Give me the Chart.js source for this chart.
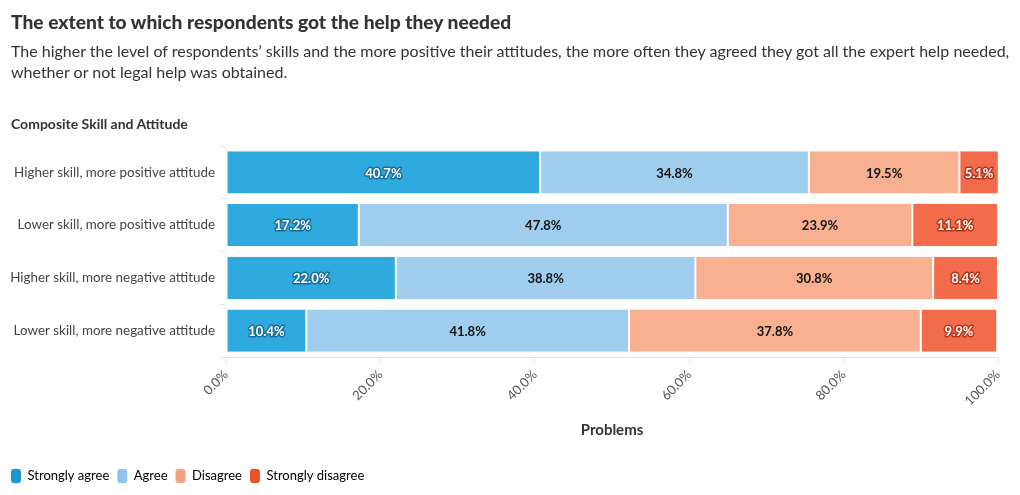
<!DOCTYPE html>
<html>
<head>
<meta charset="utf-8">
<script src="https://cdn.jsdelivr.net/npm/chart.js@4.4.0/dist/chart.umd.min.js"></script>
<style>
    body {margin: 0; background: #fff; font-family: Lato, sans-serif; color: #333;}
    #wrap {position: relative; width: 1020px; height: 495px;}
    #chart {position: absolute; left: 0; top: 0;}
    .title {position: absolute; left: 11px; top: 10px; font-size: 19.2px; font-weight: 900; color: #333;}
    .sub {position: absolute; left: 11px; top: 40px; width: 1005px; font-size: 16px; line-height: 21px; color: #333;}
    .ytitle {position: absolute; left: 11px; top: 115px; font-size: 14px; font-weight: bold; color: #333;}
</style>
</head>
<body>
<div id="wrap">
    <canvas id="chart" width="1020" height="495"></canvas>
    <div class="title">The extent to which respondents got the help they needed</div>
    <div class="sub">The higher the level of respondents’ skills and the more positive their attitudes, the more often they agreed they got all the expert help needed, whether or not legal help was obtained.</div>
    <div class="ytitle">Composite Skill and Attitude</div>
</div>
<script>
// ── data ──
const categories = ['Higher skill, more positive attitude', 'Lower skill, more positive attitude', 'Higher skill, more negative attitude', 'Lower skill, more negative attitude'];
const stronglyAgree = [40.7, 17.2, 22.0, 10.4];
const agree = [34.8, 47.8, 38.8, 41.8];
const disagree = [19.5, 23.9, 30.8, 37.8];
const stronglyDisagree = [5.1, 11.1, 8.4, 9.9];
const xTicks = [0, 20, 40, 60, 80, 100];

const FONT = 'Lato, sans-serif';

const series = [
    {label: 'Strongly agree', data: stronglyAgree, bar: '#2eaadf', legend: '#1a96d4', text: '#fff', halo: '#17709c'},
    {label: 'Agree', data: agree, bar: '#9fcdee', legend: '#8dc3ec', text: '#111', halo: null},
    {label: 'Disagree', data: disagree, bar: '#f8b091', legend: '#f3a283', text: '#111', halo: null},
    {label: 'Strongly disagree', data: stronglyDisagree, bar: '#f26c4b', legend: '#ec5128', text: '#fff', halo: '#b8341a'},
];

const barLabels = {
    id: 'barLabels',
    afterDatasetsDraw(chart) {
        const ctx = chart.ctx;
        ctx.save();
        ctx.font = 'bold 13px ' + FONT;
        ctx.textAlign = 'center';
        ctx.textBaseline = 'middle';
        chart.data.datasets.forEach((ds, i) => {
            const s = series[i];
            chart.getDatasetMeta(i).data.forEach((bar, j) => {
                const x = (bar.x + bar.base) / 2;
                const txt = ds.data[j].toFixed(1) + '%';
                if (s.halo) {
                    ctx.lineWidth = 3;
                    ctx.lineJoin = 'round';
                    ctx.strokeStyle = s.halo;
                    ctx.strokeText(txt, x, bar.y + 1);
                }
                ctx.fillStyle = s.text;
                ctx.fillText(txt, x, bar.y + 1);
            });
        });
        ctx.restore();
    }
};

new Chart(document.getElementById('chart'), {
    type: 'bar',
    data: {
        labels: categories,
        datasets: series.map(s => ({
            label: s.label,
            data: s.data,
            backgroundColor: s.bar,
            borderColor: '#fff',
            borderWidth: {left: 1, right: 1, top: 0, bottom: 0},
            borderSkipped: false,
            barPercentage: 0.8,
            categoryPercentage: 1,
        }))
    },
    options: {
        indexAxis: 'y',
        responsive: false,
        animation: false,
        layout: {padding: {left: 3, right: 22, top: 146, bottom: 2}},
        plugins: {
            tooltip: {enabled: false},
            legend: {
                position: 'bottom',
                align: 'start',
                labels: {
                    font: {family: FONT, size: 13},
                    color: '#333',
                    boxWidth: 10,
                    boxHeight: 14,
                    padding: 8,
                    useBorderRadius: true,
                    borderRadius: 3,
                    generateLabels: () => series.map(s => ({
                        text: s.label, fillStyle: s.legend, strokeStyle: s.legend, lineWidth: 0, borderRadius: 3
                    }))
                }
            }
        },
        scales: {
            x: {
                stacked: true,
                min: 0,
                max: 100,
                afterBuildTicks: s => { s.ticks = xTicks.map(v => ({value: v})); },
                afterFit: s => { s.height = 104; },
                grid: {drawOnChartArea: false, color: '#e3e3e3', tickLength: 7},
                border: {color: '#e3e3e3'},
                ticks: {
                    color: '#555',
                    font: {family: FONT, size: 13},
                    minRotation: 45,
                    maxRotation: 45,
                    callback: v => v.toFixed(1) + '%'
                },
                title: {display: true, text: 'Problems', color: '#333', font: {family: FONT, size: 15, weight: 'bold'}, padding: {top: 4, bottom: 22}}
            },
            y: {
                stacked: true,
                afterFit: s => { s.width = 223; },
                grid: {drawOnChartArea: false, color: '#e3e3e3', tickLength: 6},
                border: {display: false},
                ticks: {color: '#444', font: {family: FONT, size: 13.4}, padding: 5}
            }
        }
    },
    plugins: [barLabels]
});
</script>
</body>
</html>
